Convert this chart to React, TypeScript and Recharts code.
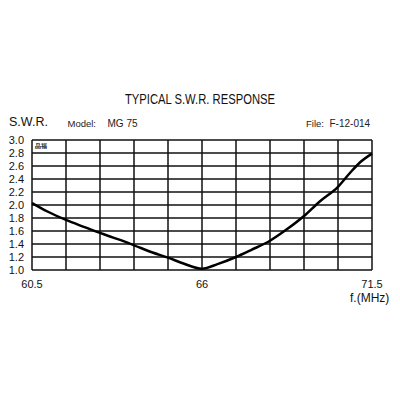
import { CartesianGrid, Line, LineChart, XAxis, YAxis } from "recharts";

const freqs = [60.5, 61.0, 61.6, 62.2, 62.7, 63.3, 63.8, 64.4, 64.9, 65.4, 66.0, 66.5, 67.1, 67.6, 68.2, 68.7, 69.3, 69.8, 70.4, 70.8, 71.1, 71.5];
const swr = [2.03, 1.9, 1.77, 1.66, 1.57, 1.47, 1.38, 1.27, 1.19, 1.1, 1.02, 1.09, 1.2, 1.31, 1.45, 1.61, 1.83, 2.05, 2.28, 2.5, 2.65, 2.79];

const freqGrid = [60.5, 61.6, 62.7, 63.8, 64.9, 66.0, 67.1, 68.2, 69.3, 70.4, 71.5];
const freqLabels = ["60.5", "66", "71.5"];
const swrTicks = [1.0, 1.2, 1.4, 1.6, 1.8, 2.0, 2.2, 2.4, 2.6, 2.8, 3.0];

const data = freqs.map((f, i) => ({ f, swr: swr[i] }));

const font = "'Liberation Sans', Arial, sans-serif";

export default function App() {
  return (
    <div style={{ position: "absolute", left: 0, top: 0, width: 400, height: 400, background: "#fff", fontFamily: font }}>
      <LineChart width={400} height={400} data={data} margin={{ top: 140, right: 28, left: 0, bottom: 100 }}>
        <CartesianGrid stroke="#111" strokeWidth={1.5} />
        <XAxis
          dataKey="f"
          type="number"
          domain={[60.5, 71.5]}
          ticks={freqGrid}
          interval={0}
          height={30}
          axisLine={false}
          tickLine={false}
          tickSize={8}
          tickMargin={2}
          tick={{ fill: "#111", fontSize: 11, fontFamily: font }}
          tickFormatter={(v: number) => (freqLabels.includes(String(v)) ? String(v) : "")}
        />
        <YAxis
          type="number"
          domain={[1, 3]}
          ticks={swrTicks}
          interval={0}
          width={32}
          axisLine={false}
          tickLine={false}
          tickSize={6}
          tickMargin={2}
          tick={{ fill: "#111", fontSize: 11, fontFamily: font }}
          tickFormatter={(v: number) => v.toFixed(1)}
        />
        <Line type="monotone" dataKey="swr" stroke="#000" strokeWidth={2.5} dot={false} isAnimationActive={false} />
      </LineChart>
      <svg width={400} height={400} style={{ position: "absolute", left: 0, top: 0, pointerEvents: "none" }}>
        <text x={200} y={103.5} textAnchor="middle" fontSize={14} textLength={150} lengthAdjust="spacingAndGlyphs" fill="#111">
          TYPICAL S.W.R. RESPONSE
        </text>
        <text x={9} y={126} fontSize={12.5} fill="#111">S.W.R.</text>
        <text x={67.5} y={126.5} fontSize={9.5} fill="#222">Model:</text>
        <text x={107.5} y={126.5} fontSize={10} fill="#222">MG 75</text>
        <text x={306} y={126.5} fontSize={9.5} fill="#222">File:</text>
        <text x={329.5} y={126.5} fontSize={10} fill="#222">F-12-014</text>
        <text x={35} y={148} fontSize={6} fontWeight="bold" fill="#222">品福</text>
        <text x={350} y={302} fontSize={12} fill="#111">f.(MHz)</text>
      </svg>
    </div>
  );
}
